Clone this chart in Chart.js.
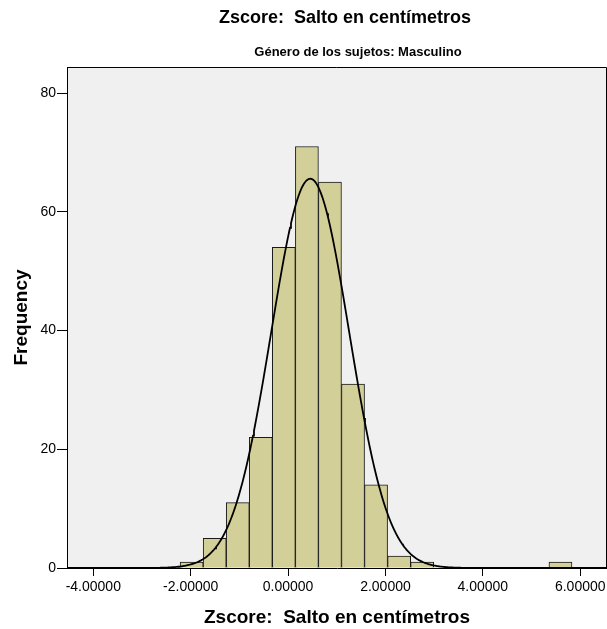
<!DOCTYPE html>
<html>
<head>
<meta charset="utf-8">
<script src="https://cdn.jsdelivr.net/npm/chart.js@4.4.1/dist/chart.umd.min.js"></script>
<style>
    html, body { margin: 0; padding: 0; background: #fff; }
    #wrap { width: 607px; height: 629px; }
</style>
</head>
<body>
<div id="wrap"><canvas id="histChart" width="607" height="629"></canvas></div>
<script>
// Histogram bins (centres) and counts
const binCenters = [-1.980, -1.507, -1.033, -0.560, -0.087, 0.387, 0.860, 1.334, 1.807,
                    2.281, 2.754, 3.227, 3.701, 4.174, 4.648, 5.121, 5.594];
const binCounts = [1, 5, 11, 22, 54, 71, 65, 31, 14, 2, 1, 0, 0, 0, 0, 0, 1];

// Axis ticks
const xTicks = [-4, -2, 0, 2, 4, 6];
const yTicks = [0, 20, 40, 60, 80];

// Fitted normal curve parameters
const fitMean = 0.455;
const fitSd = 0.80;

const titleText = 'Zscore:  Salto en centímetros';
const subtitleText = 'Género de los sujetos: Masculino';
const xTitle = 'Zscore:  Salto en centímetros';
const yTitle = 'Frequency';

const FONT = '"Liberation Sans", Arial, sans-serif';


// Build bar data
const barData = binCenters.map(function (c, i) {
    return { x: c, y: binCounts[i] };
});

// Normal curve scaled to the histogram (N * bin width * density)
const total = binCounts.reduce(function (a, b) { return a + b; }, 0);
const binWidth = binCenters[1] - binCenters[0];
const curveData = [];
for (let x = -4.54; x <= 6.56; x += 0.02) {
    const z = (x - fitMean) / fitSd;
    const y = total * binWidth * Math.exp(-0.5 * z * z) / (fitSd * Math.sqrt(2 * Math.PI));
    curveData.push({ x: x, y: y });
}


// Grey plot background + top/right frame
const plotFrame = {
    id: 'plotFrame',
    beforeDraw(chart) {
        const a = chart.chartArea;
        const ctx = chart.ctx;
        ctx.save();
        ctx.fillStyle = '#f0f0f0';
        ctx.fillRect(a.left, a.top, a.right - a.left, a.bottom - a.top);
        ctx.restore();
    },
    afterDraw(chart) {
        const a = chart.chartArea;
        const ctx = chart.ctx;
        ctx.save();
        ctx.strokeStyle = '#000';
        ctx.lineWidth = 1;
        ctx.beginPath();
        ctx.moveTo(a.left, a.top + 0.5);
        ctx.lineTo(a.right - 0.5, a.top + 0.5);
        ctx.lineTo(a.right - 0.5, a.bottom);
        ctx.stroke();
        ctx.restore();
    }
};

// Chart title and subtitle
const titles = {
    id: 'titles',
    afterDraw(chart) {
        const ctx = chart.ctx;
        ctx.save();
        ctx.fillStyle = '#000';
        ctx.textAlign = 'center';
        ctx.textBaseline = 'middle';
        ctx.font = 'bold 18px ' + FONT;
        ctx.fillText(titleText, 345, 18);
        ctx.font = 'bold 13px ' + FONT;
        ctx.fillText(subtitleText, 358, 52);
        ctx.restore();
    }
};


const ctx = document.getElementById('histChart').getContext('2d');

new Chart(ctx, {
    type: 'bar',

    data: {
        datasets: [
            {
                type: 'line',
                data: curveData,
                borderColor: '#000',
                borderWidth: 1.8,
                pointRadius: 0,
                fill: false,
                tension: 0,
                order: 1
            },
            {
                type: 'bar',
                data: barData,
                backgroundColor: '#d3cf98',
                borderColor: '#1a1a1a',
                borderWidth: function (c) {
                    return c.raw && c.raw.y > 0 ? 1 : 0;
                },
                borderSkipped: 'start',
                barPercentage: 1,
                categoryPercentage: 1,
                order: 2
            }
        ]
    },

    options: {
        responsive: false,
        animation: false,
        devicePixelRatio: 1,

        layout: {
            padding: { top: 67, right: 0, left: 0, bottom: 0 }
        },

        plugins: {
            legend: { display: false },
            tooltip: { enabled: false }
        },

        scales: {
            x: {
                type: 'linear',
                position: 'bottom',
                min: -4.54,
                max: 6.55,
                offset: false,
                afterBuildTicks: function (s) {
                    s.ticks = xTicks.map(function (v) { return { value: v }; });
                },
                afterFit: function (s) {
                    s.height = 61;
                    s.paddingLeft = 0;
                    s.paddingRight = 0;
                },
                ticks: {
                    autoSkip: false,
                    maxRotation: 0,
                    padding: 3,
                    color: '#000',
                    font: { family: FONT, size: 14 },
                    callback: function (v) { return Number(v).toFixed(5); }
                },
                grid: {
                    display: true,
                    offset: false,
                    drawOnChartArea: false,
                    drawTicks: true,
                    tickLength: 8,
                    color: '#000'
                },
                border: { display: true, color: '#000', width: 1 },
                title: {
                    display: true,
                    text: xTitle,
                    color: '#000',
                    font: { family: FONT, size: 19, weight: 'bold' },
                    padding: { top: 0, bottom: 0 }
                }
            },

            y: {
                min: 0,
                max: 84.4,
                afterBuildTicks: function (s) {
                    s.ticks = yTicks.map(function (v) { return { value: v }; });
                },
                afterFit: function (s) {
                    s.width = 67;
                },
                ticks: {
                    padding: 1,
                    color: '#000',
                    font: { family: FONT, size: 14 }
                },
                grid: {
                    display: true,
                    drawOnChartArea: false,
                    drawTicks: true,
                    tickLength: 10,
                    color: '#000'
                },
                border: { display: true, color: '#000', width: 1 },
                title: {
                    display: true,
                    text: yTitle,
                    color: '#000',
                    font: { family: FONT, size: 19, weight: 'bold' },
                    padding: { top: 10, bottom: 0 }
                }
            }
        }
    },

    plugins: [plotFrame, titles]
});
</script>
</body>
</html>
